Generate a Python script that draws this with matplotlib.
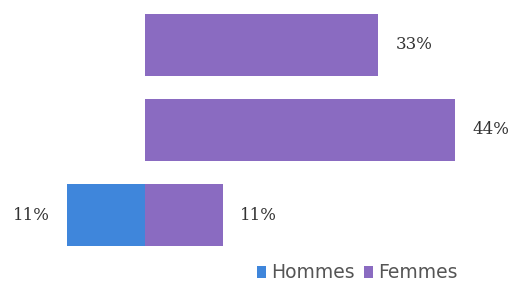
import numpy as np
import matplotlib.pyplot as plt

categories = ['A', 'B', 'C']
hommes = [0, 0, 11]
femmes = [33, 44, 11]
series_names = ['Hommes', 'Femmes']

col_h = '#3f86db'
col_f = '#8a6bc1'

fig = plt.figure(figsize=(5.11, 2.84), dpi=100)
ax = fig.add_axes([0, 0, 1, 1])

y = np.arange(len(categories))
h = 0.73
ax.barh(y, [-v for v in hommes], height=h, color=col_h, label=series_names[0])
ax.barh(y, femmes, height=h, color=col_f, label=series_names[1])

for yi, v in zip(y, femmes):
    if v:
        ax.text(v + 2.5, yi, f'{v}%', va='center', ha='left',
                family='DejaVu Serif', fontsize=12, color='#333333')
for yi, v in zip(y, hommes):
    if v:
        ax.text(-v - 2.5, yi, f'{v}%', va='center', ha='right',
                family='DejaVu Serif', fontsize=12, color='#333333')

ax.set_xlim(-145 / 7.05, (511 - 145) / 7.05)
ax.set_ylim((284 - 45) / 85, -45 / 85)
ax.axis('off')

leg = fig.legend(loc='center', bbox_to_anchor=(357 / 511, 1 - 273 / 284),
                 ncol=2, frameon=False, handlelength=0.5, handleheight=0.6,
                 handletextpad=0.25, columnspacing=0.5,
                 prop={'family': 'DejaVu Sans', 'size': 13.5})
for t in leg.get_texts():
    t.set_color('#555555')

fig.savefig('out.png', dpi=100)
